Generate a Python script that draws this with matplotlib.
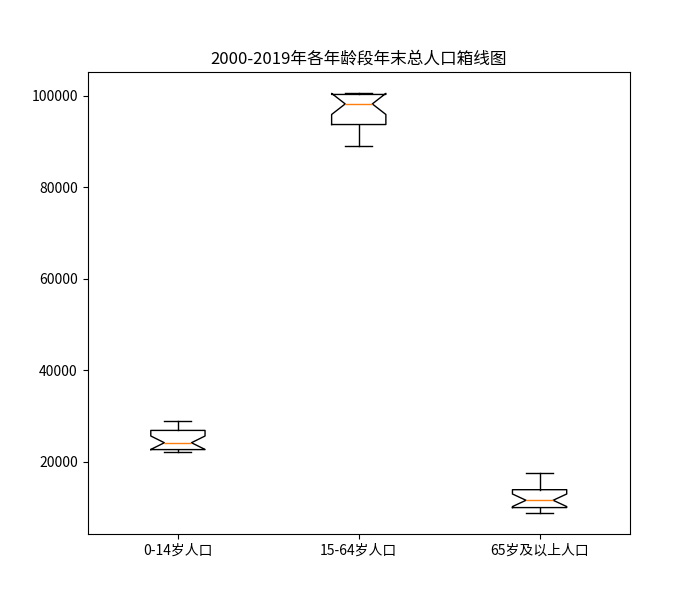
import matplotlib
matplotlib.use("Agg")
import matplotlib.pyplot as plt

plt.rcParams['font.family'] = ['Noto Sans CJK SC', 'DejaVu Sans']
plt.rcParams['axes.unicode_minus'] = False

years = list(range(2000, 2020))
age_0_14 = [29012, 28716, 28774, 28559, 27947, 26504, 25961, 25660, 25166, 24659,
            22259, 22164, 22287, 22329, 22558, 22715, 23008, 23348, 23523, 23689]
age_15_64 = [88910, 89849, 90302, 90976, 92184, 94197, 95068, 95833, 96680, 97484,
             99938, 100283, 100403, 100582, 100469, 100361, 100260, 99829, 99357, 98910]
age_65_plus = [8821, 9062, 9377, 9692, 9857, 10055, 10419, 10636, 10956, 11307,
               11894, 12288, 12714, 13161, 13755, 14386, 15003, 15831, 16658, 17603]
labels = ['0-14岁人口', '15-64岁人口', '65岁及以上人口']
title = '2000-2019年各年龄段年末总人口箱线图'

fig = plt.figure(figsize=(7, 6), dpi=100)
ax = fig.add_subplot(111)
ax.boxplot([age_0_14, age_15_64, age_65_plus], notch=True, tick_labels=labels)
ax.set_title(title)
fig.savefig('out.png')
